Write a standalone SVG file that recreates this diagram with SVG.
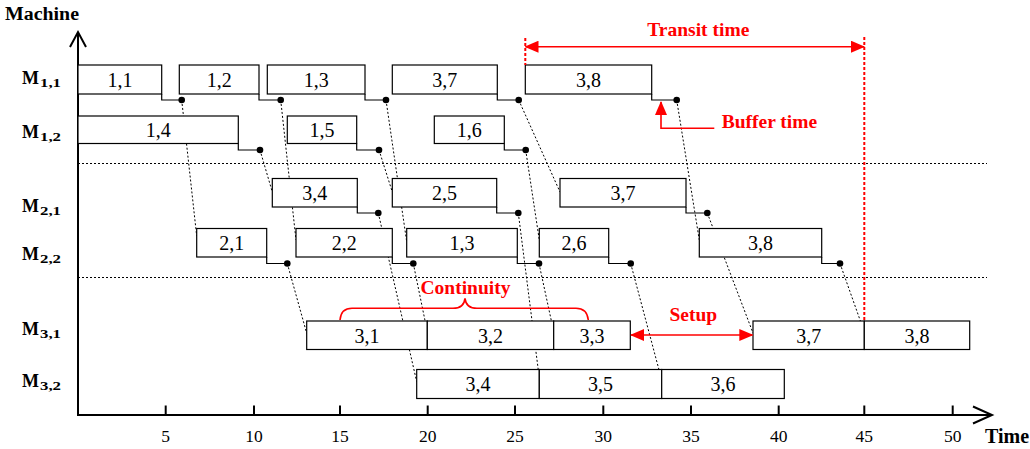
<svg xmlns="http://www.w3.org/2000/svg" width="1030" height="449" viewBox="0 0 1030 449">
  <defs>
    <style>
      .box { fill: #fff; stroke: #000; stroke-width: 1.2; }
      .step { fill: none; stroke: #000; stroke-width: 1.2; }
      .dot { fill: #000; }
      .lbl { font-family: "Liberation Serif", "Times New Roman", serif; font-size: 20px; text-anchor: middle; fill: #000; }
      .row { font-family: "Liberation Serif", "Times New Roman", serif; font-weight: bold; fill: #000; }
      .tick { font-family: "Liberation Serif", "Times New Roman", serif; font-size: 17.5px; text-anchor: middle; fill: #000; }
      .axis { fill: none; stroke: #000; stroke-width: 2; }
      .sep { fill: none; stroke: #000; stroke-width: 1.2; stroke-dasharray: 2 2; }
      .link { fill: none; stroke: #000; stroke-width: 1; stroke-dasharray: 2 2; }
      .red { fill: none; stroke: #ff0000; stroke-width: 1.6; }
      .reddash { fill: none; stroke: #ff0000; stroke-width: 2; stroke-dasharray: 3 2; }
      .note { font-family: "Liberation Serif", "Times New Roman", serif; font-weight: bold; font-size: 19.5px; fill: #ff0000; }
    </style>
    <marker id="redHead" viewBox="0 0 14 12" refX="13" refY="6" markerWidth="14" markerHeight="12" markerUnits="userSpaceOnUse" orient="auto-start-reverse">
      <path d="M0,0 L14,6 L0,12 Z" fill="#ff0000"/>
    </marker>
  </defs>

  <rect width="1030" height="449" fill="#fff"/>

  <!-- axes -->
  <g id="axes">
    <line class="axis" x1="78" y1="415" x2="78" y2="33"/>
    <polyline class="axis" stroke-width="1.6" points="70,47 78,32 86,47"/>
    <line class="axis" x1="77" y1="415" x2="991" y2="415"/>
    <polyline class="axis" stroke-width="1.6" points="973,406.5 992,415 973,423.5"/>
    <g stroke="#000" stroke-width="2">
      <line x1="165.7" y1="405.5" x2="165.7" y2="415"/>
      <line x1="254" y1="405.5" x2="254" y2="415"/>
      <line x1="340" y1="405.5" x2="340" y2="415"/>
      <line x1="427.7" y1="405.5" x2="427.7" y2="415"/>
      <line x1="515" y1="405.5" x2="515" y2="415"/>
      <line x1="603.3" y1="405.5" x2="603.3" y2="415"/>
      <line x1="691" y1="405.5" x2="691" y2="415"/>
      <line x1="778.7" y1="405.5" x2="778.7" y2="415"/>
      <line x1="864.3" y1="405.5" x2="864.3" y2="415"/>
      <line x1="952.7" y1="405.5" x2="952.7" y2="415"/>
    </g>
    <text class="tick" x="165.7" y="442">5</text>
    <text class="tick" x="254" y="442">10</text>
    <text class="tick" x="340" y="442">15</text>
    <text class="tick" x="427.7" y="442">20</text>
    <text class="tick" x="515" y="442">25</text>
    <text class="tick" x="603.3" y="442">30</text>
    <text class="tick" x="691" y="442">35</text>
    <text class="tick" x="778.7" y="442">40</text>
    <text class="tick" x="864.3" y="442">45</text>
    <text class="tick" x="952.7" y="442">50</text>
    <text class="row" x="5" y="20" font-size="18" textLength="74" lengthAdjust="spacingAndGlyphs">Machine</text>
    <text class="row" x="985" y="443" font-size="20">Time</text>
  </g>

  <!-- machine row labels -->
  <g id="row-labels">
    <g id="lbl-m11"><text class="row" x="22" y="84" font-size="18">M</text><text class="row" x="40" y="87" font-size="13" textLength="21" lengthAdjust="spacingAndGlyphs">1,1</text></g>
    <g id="lbl-m12"><text class="row" x="22" y="138" font-size="18">M</text><text class="row" x="40" y="141" font-size="13" textLength="21" lengthAdjust="spacingAndGlyphs">1,2</text></g>
    <g id="lbl-m21"><text class="row" x="22" y="211.5" font-size="18">M</text><text class="row" x="40" y="214.5" font-size="13" textLength="21" lengthAdjust="spacingAndGlyphs">2,1</text></g>
    <g id="lbl-m22"><text class="row" x="22" y="260" font-size="18">M</text><text class="row" x="40" y="263" font-size="13" textLength="21" lengthAdjust="spacingAndGlyphs">2,2</text></g>
    <g id="lbl-m31"><text class="row" x="22" y="335" font-size="18">M</text><text class="row" x="40" y="338" font-size="13" textLength="21" lengthAdjust="spacingAndGlyphs">3,1</text></g>
    <g id="lbl-m32"><text class="row" x="22" y="386.5" font-size="18">M</text><text class="row" x="40" y="389.5" font-size="13" textLength="21" lengthAdjust="spacingAndGlyphs">3,2</text></g>
  </g>

  <!-- stage separators -->
  <g id="separators">
    <line class="sep" x1="78" y1="163.5" x2="987" y2="163.5"/>
    <line class="sep" x1="78" y1="277.5" x2="987" y2="277.5"/>
  </g>

  <!-- precedence connectors -->
  <g id="connectors">
    <line class="link" x1="181.7" y1="100" x2="196.7" y2="236"/>
    <line class="link" x1="280.7" y1="100" x2="296" y2="240"/>
    <line class="link" x1="386" y1="100" x2="406.7" y2="241.7"/>
    <line class="link" x1="518.7" y1="100" x2="560" y2="192"/>
    <line class="link" x1="676.7" y1="100" x2="699.3" y2="240"/>
    <line class="link" x1="260" y1="150" x2="272.3" y2="192"/>
    <line class="link" x1="379" y1="150" x2="392.3" y2="192"/>
    <line class="link" x1="525.7" y1="150" x2="539.3" y2="240"/>
    <line class="link" x1="378.3" y1="213" x2="416.7" y2="381.7"/>
    <line class="link" x1="518.3" y1="213" x2="539.3" y2="378"/>
    <line class="link" x1="707.3" y1="213" x2="753" y2="333"/>
    <line class="link" x1="287.3" y1="263.5" x2="306.7" y2="333.3"/>
    <line class="link" x1="413.3" y1="263.5" x2="427.3" y2="331.7"/>
    <line class="link" x1="539" y1="263.5" x2="553.7" y2="331.7"/>
    <line class="link" x1="630.7" y1="263.5" x2="661.7" y2="380"/>
    <line class="link" x1="840" y1="263.5" x2="864.3" y2="332"/>
  </g>

  <!-- M1,1 operations -->
  <g id="m11-1-1"><rect class="box" x="78" y="65" width="83.7" height="29"/><path class="step" d="M161.7,94 V100 H181.7"/><circle class="dot" cx="181.7" cy="100" r="3.3"/><text class="lbl" x="120" y="87">1,1</text></g>
  <g id="m11-1-2"><rect class="box" x="179.3" y="65" width="79.7" height="29"/><path class="step" d="M259,94 V100 H280.7"/><circle class="dot" cx="280.7" cy="100" r="3.3"/><text class="lbl" x="219.2" y="87">1,2</text></g>
  <g id="m11-1-3"><rect class="box" x="267.3" y="65" width="97.7" height="29"/><path class="step" d="M365,94 V100 H386"/><circle class="dot" cx="386" cy="100" r="3.3"/><text class="lbl" x="316.2" y="87">1,3</text></g>
  <g id="m11-3-7"><rect class="box" x="392.3" y="65" width="105" height="29"/><path class="step" d="M497.3,94 V100 H518.7"/><circle class="dot" cx="518.7" cy="100" r="3.3"/><text class="lbl" x="444.8" y="87">3,7</text></g>
  <g id="m11-3-8"><rect class="box" x="525.3" y="65" width="126.4" height="29"/><path class="step" d="M651.7,94 V100 H676.7"/><circle class="dot" cx="676.7" cy="100" r="3.3"/><text class="lbl" x="588.5" y="87">3,8</text></g>

  <!-- M1,2 operations -->
  <g id="m12-1-4"><rect class="box" x="78" y="116" width="160.3" height="27.5"/><path class="step" d="M238.3,143.5 V150 H260"/><circle class="dot" cx="260" cy="150" r="3.3"/><text class="lbl" x="158.2" y="137">1,4</text></g>
  <g id="m12-1-5"><rect class="box" x="287.3" y="116" width="69.4" height="27.5"/><path class="step" d="M356.7,143.5 V150 H379"/><circle class="dot" cx="379" cy="150" r="3.3"/><text class="lbl" x="322" y="137">1,5</text></g>
  <g id="m12-1-6"><rect class="box" x="434.3" y="116" width="70" height="27.5"/><path class="step" d="M504.3,143.5 V150 H525.7"/><circle class="dot" cx="525.7" cy="150" r="3.3"/><text class="lbl" x="469.3" y="137">1,6</text></g>

  <!-- M2,1 operations -->
  <g id="m21-3-4"><rect class="box" x="272.3" y="178.5" width="85" height="28.5"/><path class="step" d="M357.3,207 V213 H378.3"/><circle class="dot" cx="378.3" cy="213" r="3.3"/><text class="lbl" x="314.8" y="200">3,4</text></g>
  <g id="m21-2-5"><rect class="box" x="392.3" y="178.5" width="104.4" height="28.5"/><path class="step" d="M496.7,207 V213 H518.3"/><circle class="dot" cx="518.3" cy="213" r="3.3"/><text class="lbl" x="444.5" y="200">2,5</text></g>
  <g id="m21-3-7"><rect class="box" x="560" y="178.5" width="126" height="28.5"/><path class="step" d="M686,207 V213 H707.3"/><circle class="dot" cx="707.3" cy="213" r="3.3"/><text class="lbl" x="623" y="200">3,7</text></g>

  <!-- M2,2 operations -->
  <g id="m22-2-1"><rect class="box" x="196.7" y="228.5" width="70" height="28.5"/><path class="step" d="M266.7,257 V263.5 H287.3"/><circle class="dot" cx="287.3" cy="263.5" r="3.3"/><text class="lbl" x="231.7" y="250">2,1</text></g>
  <g id="m22-2-2"><rect class="box" x="296" y="228.5" width="96.3" height="28.5"/><path class="step" d="M392.3,257 V263.5 H413.3"/><circle class="dot" cx="413.3" cy="263.5" r="3.3"/><text class="lbl" x="344.2" y="250">2,2</text></g>
  <g id="m22-1-3"><rect class="box" x="406.7" y="228.5" width="110.6" height="28.5"/><path class="step" d="M517.3,257 V263.5 H539"/><circle class="dot" cx="539" cy="263.5" r="3.3"/><text class="lbl" x="462" y="250">1,3</text></g>
  <g id="m22-2-6"><rect class="box" x="539.3" y="228.5" width="69.4" height="28.5"/><path class="step" d="M608.7,257 V263.5 H630.7"/><circle class="dot" cx="630.7" cy="263.5" r="3.3"/><text class="lbl" x="574" y="250">2,6</text></g>
  <g id="m22-3-8"><rect class="box" x="699.3" y="228.5" width="122.4" height="28.5"/><path class="step" d="M821.7,257 V263.5 H840"/><circle class="dot" cx="840" cy="263.5" r="3.3"/><text class="lbl" x="760.5" y="250">3,8</text></g>

  <!-- M3,1 operations -->
  <g id="m31-3-1"><rect class="box" x="306.7" y="321" width="120.6" height="28.5"/><text class="lbl" x="367" y="342.5">3,1</text></g>
  <g id="m31-3-2"><rect class="box" x="427.3" y="321" width="126.4" height="28.5"/><text class="lbl" x="490.5" y="342.5">3,2</text></g>
  <g id="m31-3-3"><rect class="box" x="553.7" y="321" width="76.6" height="28.5"/><text class="lbl" x="592" y="342.5">3,3</text></g>
  <g id="m31-3-7"><rect class="box" x="753" y="321" width="111.3" height="28.5"/><text class="lbl" x="808.7" y="342.5">3,7</text></g>
  <g id="m31-3-8"><rect class="box" x="864.3" y="321" width="105.4" height="28.5"/><text class="lbl" x="917" y="342.5">3,8</text></g>

  <!-- M3,2 operations -->
  <g id="m32-3-4"><rect class="box" x="416.7" y="369.5" width="122.6" height="29"/><text class="lbl" x="478" y="391">3,4</text></g>
  <g id="m32-3-5"><rect class="box" x="539.3" y="369.5" width="122.4" height="29"/><text class="lbl" x="600.5" y="391">3,5</text></g>
  <g id="m32-3-6"><rect class="box" x="661.7" y="369.5" width="122.6" height="29"/><text class="lbl" x="723" y="391">3,6</text></g>

  <!-- annotations -->
  <g id="transit-time">
    <line class="reddash" x1="525.3" y1="38" x2="525.3" y2="65"/>
    <line class="reddash" x1="864.3" y1="37" x2="864.3" y2="321"/>
    <line class="red" x1="525.5" y1="46.7" x2="864" y2="46.7" marker-start="url(#redHead)" marker-end="url(#redHead)"/>
    <text class="note" x="698.3" y="35.5" text-anchor="middle">Transit time</text>
  </g>
  <g id="buffer-time">
    <polyline class="red" points="714.3,128.3 661,128.3 661,102" marker-end="url(#redHead)"/>
    <text class="note" x="721.7" y="128.3">Buffer time</text>
  </g>
  <g id="continuity">
    <path class="red" d="M340,320 Q341,308.3 352,308.3 H453 Q464,308.3 465,298.3 Q466,308.3 477,308.3 H576 Q587,308.3 588.3,320"/>
    <text class="note" x="465.5" y="294" text-anchor="middle">Continuity</text>
  </g>
  <g id="setup">
    <line class="red" x1="631" y1="335" x2="752.3" y2="335" marker-start="url(#redHead)" marker-end="url(#redHead)"/>
    <text class="note" x="693.3" y="321" text-anchor="middle">Setup</text>
  </g>
</svg>
